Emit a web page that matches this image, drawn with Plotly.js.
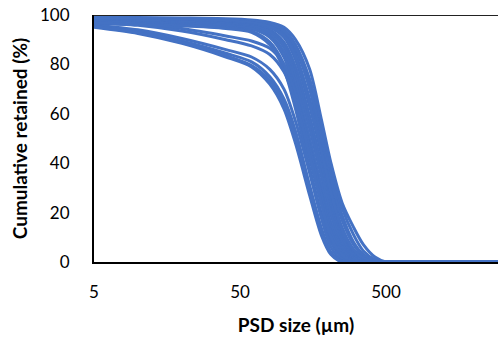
<!DOCTYPE html>
<html>
<head>
<meta charset="utf-8">
<script src="https://cdn.plot.ly/plotly-3.0.1.min.js"></script>
<style>html,body{margin:0;padding:0;background:#fff;}#chart{width:498px;height:344px;}</style>
</head>
<body>
<div id="chart"></div>
<script>
const sizes = [5, 10, 20, 40, 60, 80, 100, 120, 150, 180, 210, 250, 300, 350, 420, 500, 1000, 3000];

const s1  = [99, 99, 98.8, 98.5, 98, 97, 95, 90, 78, 58, 40, 24, 14, 7, 2, 0, 0, 0];
const s2  = [98.8, 98.7, 98.5, 98.2, 97.6, 96.5, 94, 88, 74, 55, 38, 22, 11, 4.5, 1, 0, 0, 0];
const s3  = [98.5, 98.4, 98.2, 97.8, 97.2, 96, 93, 86, 71, 52, 35, 19, 8, 3, 0.5, 0, 0, 0];
const s4  = [98.6, 98.5, 98.3, 98, 97.5, 96.3, 93.5, 87, 70, 50, 32, 17, 7, 2.5, 0.3, 0, 0, 0];
const s5  = [98.2, 98, 97.8, 97.4, 96.8, 95.5, 92, 84, 66, 47, 29, 14, 5, 1.5, 0, 0, 0, 0];
const s6  = [98, 97.9, 97.6, 97.2, 96.5, 95, 91, 82, 63, 44, 26, 12, 4, 1, 0, 0, 0, 0];
const s7  = [98.4, 98.2, 97.9, 97.5, 96.9, 95.2, 91.5, 83, 64, 45, 28, 13, 5, 1.5, 0, 0, 0, 0];
const s8  = [97.8, 97.6, 97.3, 96.8, 96, 94, 89, 79, 59, 40, 23, 10, 3, 0.5, 0, 0, 0, 0];
const s9  = [97.5, 97.3, 97, 96.4, 95.5, 93.5, 88, 77, 57, 38, 21, 9, 2.5, 0.3, 0, 0, 0, 0];
const s10 = [97.7, 97.5, 97.1, 96.5, 95.6, 93, 87, 75, 54, 35, 19, 7.5, 2, 0, 0, 0, 0, 0];
const s11 = [97.2, 97, 96.6, 96, 95, 92, 85, 72, 50, 31, 16, 6, 1.5, 0, 0, 0, 0, 0];
const s12 = [97, 96.8, 96.4, 95.6, 94.4, 91, 83, 69, 46, 28, 14, 5, 1, 0, 0, 0, 0, 0];
const s13 = [96.8, 96.5, 96, 95, 93.5, 89, 80, 65, 42, 24, 11, 3.5, 0.5, 0, 0, 0, 0, 0];
const s14 = [96.5, 96.2, 95.6, 94.5, 93, 88, 78, 62, 38, 20, 8, 2, 0, 0, 0, 0, 0, 0];
const s15 = [97.5, 96.5, 94.5, 91.5, 89.5, 86.5, 80, 68, 46, 27, 12, 4, 0.5, 0, 0, 0, 0, 0];
const s16 = [97, 95.8, 93.5, 90, 87.5, 84, 77, 65, 43, 24, 10, 3, 0, 0, 0, 0, 0, 0];
const s17 = [96, 94, 90.5, 86, 83, 78, 70, 57, 36, 18, 6, 1, 0, 0, 0, 0, 0, 0];
const s18 = [95.5, 93.2, 89.5, 84.5, 81, 75, 66, 53, 31, 14, 4, 0.5, 0, 0, 0, 0, 0, 0];
const s19 = [95, 92.5, 88.5, 83, 79, 72, 62, 48, 27, 11, 3, 0, 0, 0, 0, 0, 0, 0];
const s20 = [95.3, 92.8, 88.8, 83.5, 79.5, 73.5, 64, 50, 29, 12.5, 3.5, 0.2, 0, 0, 0, 0, 0, 0];

const seriesList = [s1, s2, s3, s4, s5, s6, s7, s8, s9, s10, s11, s12, s13, s14, s15, s16, s17, s18, s19, s20];

const xTickVals = [5, 50, 500];
const xTickText = ['5', '50', '500'];
const yTickVals = [0, 20, 40, 60, 80, 100];

const lineColor = '#4472C4';
const traces = seriesList.map((ys, i) => ({
  x: sizes, y: ys, type: 'scatter', mode: 'lines',
  name: 'S' + (i + 1),
  line: {color: lineColor, width: 3, shape: 'spline', smoothing: 0.8},
  hoverinfo: 'skip'
}));

const font = "Lato, 'Open Sans', sans-serif";
const xMin = Math.log10(5);
const xMax = xMin + 404 / 146;

const layout = {
  width: 498, height: 344,
  margin: {l: 94, r: 0, t: 15, b: 82},
  showlegend: false,
  paper_bgcolor: '#fff', plot_bgcolor: '#fff',
  font: {family: font, color: '#000', size: 17},
  xaxis: {
    type: 'log', range: [xMin, xMax],
    tickvals: xTickVals, ticktext: xTickText,
    showgrid: false, zeroline: false,
    showline: true, linecolor: '#000', linewidth: 2,
    ticks: '', ticklabelstandoff: 14,
    tickfont: {family: font, size: 17, color: '#000'},
    title: {text: '<b>PSD size (µm)</b>', font: {family: font, size: 19, color: '#000'}, standoff: 17}
  },
  yaxis: {
    range: [0, 100],
    tickvals: yTickVals,
    showgrid: false, zeroline: false,
    showline: true, linecolor: '#000', linewidth: 2,
    ticks: '', ticklabelstandoff: 19,
    tickfont: {family: font, size: 17, color: '#000'},
    title: {text: '<b>Cumulative retained (%)</b>', font: {family: font, size: 19, color: '#000'}, standoff: 7}
  },
  shapes: [{
    type: 'line', xref: 'paper', x0: 0, x1: 1, yref: 'y', y0: 100, y1: 100,
    line: {color: '#222', width: 2}, layer: 'above'
  }]
};

Plotly.newPlot('chart', traces, layout, {displayModeBar: false, staticPlot: true});
</script>
</body>
</html>
